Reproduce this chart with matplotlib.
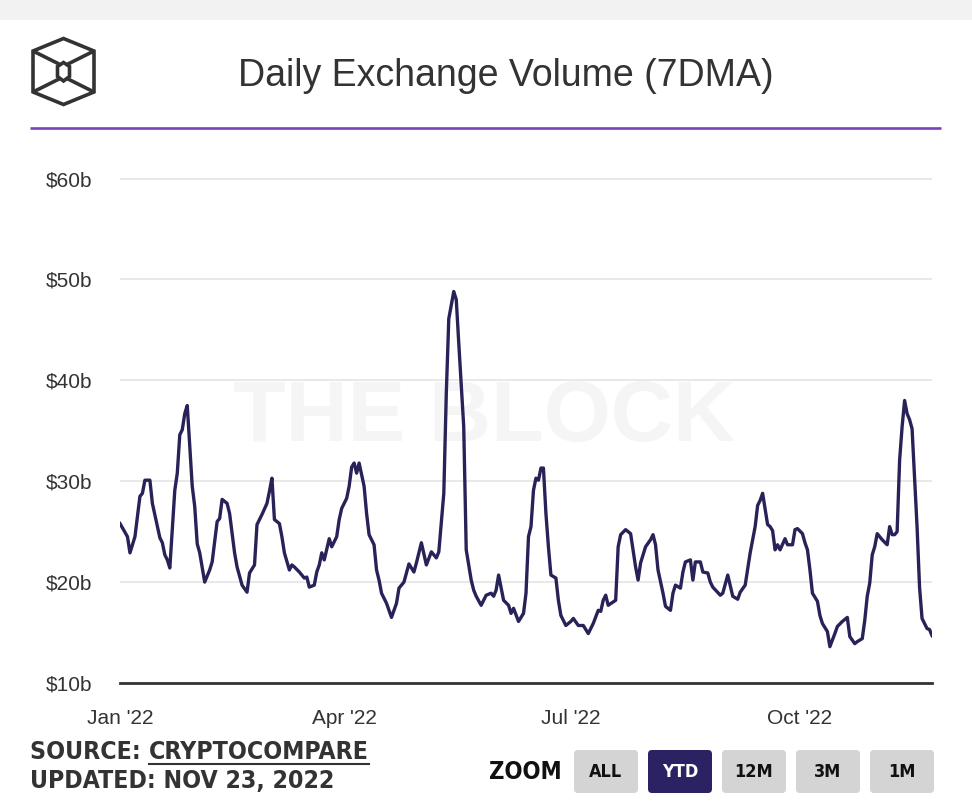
import matplotlib
matplotlib.use("Agg")
import matplotlib.pyplot as plt
import matplotlib.dates as mdates
from matplotlib.patches import FancyBboxPatch, Polygon, Rectangle
from matplotlib import font_manager
import pandas as pd

# ---------------- data (days since 2022-01-01, volume in $b) ----------------
start_date = "2022-01-01"
end_date = "2022-11-23"
days = [0, 3, 4, 6, 8, 9, 10, 12, 13, 15, 16, 17, 18, 19, 20, 22, 23, 24, 25, 26,
        27, 29, 30, 31, 32, 34, 36, 37, 39, 40, 41, 43, 44, 46, 47, 49, 51, 52, 54, 55,
        57, 59, 60, 61, 62, 64, 65, 66, 68, 69, 70, 72, 74, 75, 76, 78, 79, 80, 81, 82,
        84, 85, 87, 88, 89, 91, 92, 93, 94, 95, 96, 98, 99, 100, 102, 103, 104, 105, 107, 109,
        111, 112, 114, 115, 116, 118, 119, 121, 123, 125, 127, 128, 130, 131, 132, 134, 135, 136, 138, 139,
        141, 142, 143, 145, 147, 149, 150, 151, 152, 154, 156, 157, 158, 160, 162, 163, 164, 165, 166, 167,
        168, 169, 170, 171, 172, 173, 175, 176, 177, 179, 181, 182, 184, 186, 188, 190, 192, 193, 194, 195,
        196, 199, 200, 201, 203, 205, 207, 208, 209, 211, 213, 214, 215, 216, 218, 219, 221, 222, 223, 225,
        226, 227, 229, 230, 231, 233, 234, 236, 237, 238, 241, 242, 244, 246, 248, 249, 251, 253, 255, 256,
        257, 258, 260, 261, 262, 263, 264, 265, 267, 268, 270, 271, 272, 274, 275, 276, 277, 278, 280, 281,
        282, 284, 285, 287, 288, 290, 292, 293, 295, 296, 298, 299, 300, 301, 302, 303, 304, 306, 308, 309,
        310, 311, 312, 313, 314, 315, 316, 317, 318, 320, 321, 322, 324, 325, 326]
volume = [25.8, 24.5, 22.9, 24.5, 28.5, 28.8, 30.1, 30.1, 27.8, 25.5, 24.4, 23.9, 22.7, 22.2, 21.4, 29.1, 30.8, 34.6, 35.1, 36.7,
          37.5, 29.5, 27.5, 23.8, 22.9, 20.0, 21.2, 22.0, 26.0, 26.3, 28.2, 27.8, 26.8, 22.9, 21.5, 19.7, 19.0, 20.9, 21.7, 25.7,
          26.7, 27.8, 29.0, 30.3, 26.2, 25.8, 24.5, 22.9, 21.2, 21.7, 21.5, 21.0, 20.4, 20.5, 19.5, 19.7, 21.0, 21.7, 22.9, 22.2,
          24.3, 23.5, 24.5, 26.2, 27.3, 28.3, 29.5, 31.4, 31.8, 30.8, 31.8, 29.5, 26.8, 24.7, 23.7, 21.2, 20.2, 18.9, 17.9, 16.5,
          17.9, 19.4, 20.0, 20.9, 21.8, 21.0, 21.9, 23.9, 21.7, 23.0, 22.4, 23.0, 28.8, 38.7, 46.1, 48.8, 48.0, 43.7, 35.4, 23.2,
          20.2, 19.2, 18.6, 17.7, 18.7, 18.9, 18.6, 19.2, 20.7, 18.2, 17.7, 16.9, 17.4, 16.1, 16.9, 18.9, 24.5, 25.5, 29.1, 30.3,
          30.1, 31.3, 31.3, 26.8, 23.5, 20.7, 20.4, 18.2, 16.7, 15.7, 16.1, 16.4, 15.7, 15.7, 14.9, 15.9, 17.2, 17.1, 18.2, 18.7,
          17.7, 18.2, 23.5, 24.7, 25.2, 24.8, 21.5, 20.2, 21.9, 23.5, 24.2, 24.7, 23.7, 21.2, 18.9, 17.6, 17.2, 18.9, 19.7, 19.4,
          21.0, 22.0, 22.2, 20.2, 22.0, 22.0, 21.0, 20.9, 20.0, 19.5, 18.7, 18.9, 20.7, 18.6, 18.3, 19.0, 19.7, 22.9, 25.5, 27.6,
          28.1, 28.8, 25.7, 25.5, 25.1, 23.2, 23.7, 23.2, 24.3, 23.7, 23.7, 25.2, 25.3, 24.8, 23.9, 23.2, 21.2, 18.9, 18.1, 16.7,
          15.9, 15.1, 13.6, 14.9, 15.6, 16.1, 16.5, 14.6, 13.9, 14.1, 14.4, 16.2, 18.6, 19.9, 22.7, 23.5, 24.8, 24.2, 23.7, 25.5,
          24.7, 24.7, 25.0, 32.1, 35.4, 38.0, 36.7, 36.1, 35.2, 25.5, 19.5, 16.4, 15.4, 15.3, 14.7]
y_ticks = [10, 20, 30, 40, 50, 60]
x_ticks = ["2022-01-01", "2022-04-01", "2022-07-01", "2022-10-01"]
zoom_buttons = ["ALL", "YTD", "12M", "3M", "1M"]
active_button = "YTD"

title = "Daily Exchange Volume (7DMA)"
source_label = "SOURCE: "
source_name = "CRYPTOCOMPARE"
updated = "UPDATED: NOV 23, 2022"

dates = pd.Timestamp(start_date) + pd.to_timedelta(days, unit="D")

# condensed bold font if available
cond = font_manager.FontProperties(family="DejaVu Sans", weight="bold", stretch="condensed")
cond_path = font_manager.findfont(cond)
use_cond = "Condensed" in cond_path


def bold_narrow(size):
    if use_cond:
        return dict(fontproperties=font_manager.FontProperties(fname=cond_path, size=size))
    return dict(family="Liberation Sans", weight="bold", fontsize=size * 0.86)


# ---------------- figure ----------------
W, H = 972, 806
fig = plt.figure(figsize=(W / 100, H / 100), dpi=100, facecolor="white")

bg = fig.add_axes([0, 0, 1, 1], zorder=0)
bg.set_xlim(0, W)
bg.set_ylim(H, 0)
bg.axis("off")

bg.add_patch(Rectangle((0, 0), W, 20, color="#f2f2f2", lw=0))
bg.plot([30, 941], [128, 128], color="#8040b8", lw=1.9, solid_capstyle="butt")

# logo
logo_col = "#333333"
outer = [(63.5, 38.5), (94, 51), (94, 92), (63.5, 104.5), (33, 92), (33, 51)]
bg.add_patch(Polygon(outer, closed=True, fill=False, ec=logo_col, lw=2.6, joinstyle="miter"))
inner = [(63.5, 62.5), (69.5, 66.5), (69.5, 76.5), (63.5, 81), (57.5, 76.5), (57.5, 66.5)]
bg.add_patch(Polygon(inner, closed=True, fill=False, ec=logo_col, lw=2.6, joinstyle="miter"))
for (xa, ya), (xb, yb) in [((33, 51), (60, 64.5)), ((94, 51), (67, 64.5)),
                           ((33, 92), (60, 78.5)), ((94, 92), (67, 78.5))]:
    bg.plot([xa, xb], [ya, yb], color=logo_col, lw=2.6, solid_capstyle="butt")

bg.text(506, 76, title, ha="center", va="center", fontsize=27,
        family="Liberation Sans", color="#333333")

fs_src = 17.8
t1 = bg.text(30, 752, source_label, ha="left", va="center", color="#333333", **bold_narrow(fs_src))
fig.canvas.draw()
r = fig.canvas.get_renderer()
bb = t1.get_window_extent(r)
t2 = bg.text(bb.x1, 752, source_name, ha="left", va="center", color="#333333", **bold_narrow(fs_src))
bb2 = t2.get_window_extent(r)
bg.plot([bb2.x0, bb2.x1], [763.5, 763.5], color="#333333", lw=1.5)
bg.text(30, 781, updated, ha="left", va="center", color="#333333", **bold_narrow(fs_src))

bg.text(562, 772, "ZOOM", ha="right", va="center", color="#111111", **bold_narrow(17))
bx0, bw, bgap = 574, 64, 10
for i, lab in enumerate(zoom_buttons):
    x0 = bx0 + i * (bw + bgap)
    active = lab == active_button
    fc = "#2a2262" if active else "#d4d4d4"
    tc = "white" if active else "#111111"
    bg.add_patch(FancyBboxPatch((x0 + 4, 750 + 4), bw - 8, 43 - 8,
                                boxstyle="round,pad=4", fc=fc, ec="none"))
    bg.text(x0 + bw / 2, 772, lab, ha="center", va="center", color=tc, **bold_narrow(13))

# ---------------- main chart ----------------
left, right = 120 / W, 932 / W
bottom = (H - 683) / H
top_px = 160
ymax = 10 + (683 - top_px) / 10.09
ax = fig.add_axes([left, bottom, right - left, (683 - top_px) / H], zorder=1)
ax.set_facecolor("none")

ax.text(0.448, 0.505, "THE BLOCK", transform=ax.transAxes, ha="center", va="center",
        fontsize=62, weight="bold", family="Liberation Sans", color="#f5f5f5", zorder=0)

ax.plot(dates, volume, color="#272257", lw=2.4, zorder=3, solid_joinstyle="round")

ax.set_xlim(pd.Timestamp(start_date), pd.Timestamp(end_date))
ax.set_ylim(10, ymax)
ax.set_yticks(y_ticks)
ax.set_yticklabels([f"${v}b" for v in y_ticks])
ax.set_xticks(pd.to_datetime(x_ticks))
ax.xaxis.set_major_formatter(mdates.DateFormatter("%b '%y"))
ax.grid(axis="y", color="#e8e8e8", lw=1.4, zorder=1)
ax.grid(axis="x", visible=False)
for s in ["top", "right", "left"]:
    ax.spines[s].set_visible(False)
ax.spines["bottom"].set_color("#333333")
ax.spines["bottom"].set_linewidth(2)
ax.spines["bottom"].set_zorder(4)
ax.tick_params(axis="both", length=0, labelsize=15, labelcolor="#333333")
ax.tick_params(axis="y", pad=20)
ax.tick_params(axis="x", pad=19)
for lab in ax.get_xticklabels() + ax.get_yticklabels():
    lab.set_family("Liberation Sans")

fig.savefig("out.png", dpi=100, facecolor="white")
